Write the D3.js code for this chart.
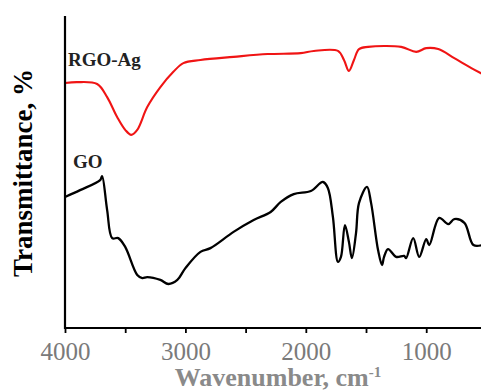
<!DOCTYPE html>
<html>
<head>
<meta charset="utf-8">
<script src="https://cdn.jsdelivr.net/npm/d3@7/dist/d3.min.js"></script>
<style>
  html, body { margin: 0; padding: 0; background: #fff; }
  svg { display: block; }
</style>
</head>
<body>
<svg id="chart" width="481" height="392"></svg>
<script>
// ---- Data ----
const xTickValues = [4000, 3000, 2000, 1000];
const xMinorTicks = [3500, 2500, 1500];
const xLabel = "Wavenumber, cm";
const xLabelSup = "-1";
const yLabel = "Transmittance, %";

const seriesNames = ["RGO-Ag", "GO"];
const seriesColors = ["#f01414", "#000000"];

// RGO-Ag spectrum: wavenumber (cm-1) and transmittance (arb. %)
const rgoWave = [4000, 3900, 3733, 3650, 3567, 3500, 3450, 3400, 3317, 3208, 3100, 3017, 2875, 2600, 2317, 2042, 1933, 1733, 1683, 1642, 1600, 1558, 1483, 1208, 1083, 1000, 900, 767, 625, 533];
const rgoT    = [78.5, 78.8, 78.2, 74.0, 67.6, 63.5, 61.9, 63.5, 70.8, 77.2, 82.1, 84.9, 85.9, 86.9, 87.8, 88.1, 88.8, 88.8, 85.9, 82.4, 85.9, 89.4, 90.1, 90.1, 88.5, 89.7, 89.4, 86.5, 83.3, 81.4];

// GO spectrum
const goWave = [4000, 3875, 3708, 3692, 3650, 3608, 3558, 3500, 3400, 3358, 3317, 3208, 3142, 3067, 3000, 2875, 2792, 2600, 2433, 2292, 2208, 2100, 1958, 1858, 1817, 1775, 1733, 1708, 1675, 1642, 1617, 1583, 1558, 1492, 1458, 1400, 1367, 1350, 1317, 1250, 1183, 1167, 1108, 1058, 1000, 975, 892, 817, 767, 683, 608, 533];
const goT    = [42.0, 44.2, 47.4, 48.7, 37.8, 28.8, 28.8, 26.0, 17.0, 16.0, 16.3, 15.4, 14.1, 15.4, 19.2, 24.4, 25.6, 30.8, 34.6, 37.2, 40.4, 42.9, 43.9, 46.8, 44.9, 35.6, 21.2, 22.8, 33.0, 27.6, 22.4, 30.4, 40.1, 45.2, 40.1, 25.0, 20.2, 22.8, 25.3, 22.8, 23.1, 22.4, 28.8, 22.8, 28.5, 26.6, 35.3, 33.3, 34.9, 33.7, 26.6, 26.6];

// ---- Layout ----
const svg = d3.select("#chart");
const mLeft = 65, mRight = 481, mTop = 16, mBottom = 328;

const x = d3.scaleLinear().domain([4000, 545]).range([mLeft, mRight]);
const y = d3.scaleLinear().domain([0, 100]).range([mBottom, mTop]);

const line = d3.line()
  .x(d => x(d[0]))
  .y(d => y(d[1]))
  .curve(d3.curveCatmullRom.alpha(0.5));

const rgo = rgoWave.map((w, i) => [w, rgoT[i]]);
const go = goWave.map((w, i) => [w, goT[i]]);

svg.append("path").datum(go)
  .attr("d", line).attr("fill", "none")
  .attr("stroke", seriesColors[1]).attr("stroke-width", 2.3)
  .attr("stroke-linejoin", "round");

svg.append("path").datum(rgo)
  .attr("d", line).attr("fill", "none")
  .attr("stroke", seriesColors[0]).attr("stroke-width", 2.1)
  .attr("stroke-linejoin", "round");

// ---- Axes ----
const xAxis = d3.axisBottom(x)
  .tickValues(xTickValues.concat(xMinorTicks))
  .tickSize(5)
  .tickFormat(d => xTickValues.includes(d) ? d : "");

const gx = svg.append("g").attr("transform", `translate(0,${mBottom})`).call(xAxis);
gx.select(".domain").attr("stroke", "#000").attr("stroke-width", 2.2)
  .attr("d", `M${mLeft},0H${mRight}`);
gx.selectAll(".tick line").attr("stroke", "#000").attr("stroke-width", 1.8);
gx.selectAll(".tick text")
  .attr("y", 32).attr("dy", 0)
  .attr("fill", "#7a7a7a")
  .style("font-family", "'Liberation Serif', 'Times New Roman', serif")
  .style("font-size", "25px");

// y axis: plain line, no ticks
svg.append("line")
  .attr("x1", mLeft).attr("x2", mLeft)
  .attr("y1", mTop).attr("y2", mBottom + 1)
  .attr("stroke", "#000").attr("stroke-width", 2.2);

// ---- Labels ----
const serif = "'Liberation Serif', 'Times New Roman', serif";

const xl = svg.append("text")
  .attr("x", 278).attr("y", 386)
  .attr("text-anchor", "middle")
  .attr("fill", "#8a8a8a")
  .style("font-family", serif).style("font-weight", "bold").style("font-size", "26px");
xl.append("tspan").text(xLabel);
xl.append("tspan").attr("dy", -9).style("font-size", "15px").text(xLabelSup);

svg.append("text")
  .attr("transform", "translate(32,173) rotate(-90)")
  .attr("text-anchor", "middle")
  .attr("fill", "#000")
  .style("font-family", serif).style("font-weight", "bold").style("font-size", "27px")
  .text(yLabel);

svg.append("text")
  .attr("x", 68).attr("y", 66)
  .attr("fill", "#222")
  .style("font-family", serif).style("font-weight", "bold").style("font-size", "19px")
  .text(seriesNames[0]);

svg.append("text")
  .attr("x", 73).attr("y", 168)
  .attr("fill", "#222")
  .style("font-family", serif).style("font-weight", "bold").style("font-size", "19px")
  .text(seriesNames[1]);
</script>
</body>
</html>
